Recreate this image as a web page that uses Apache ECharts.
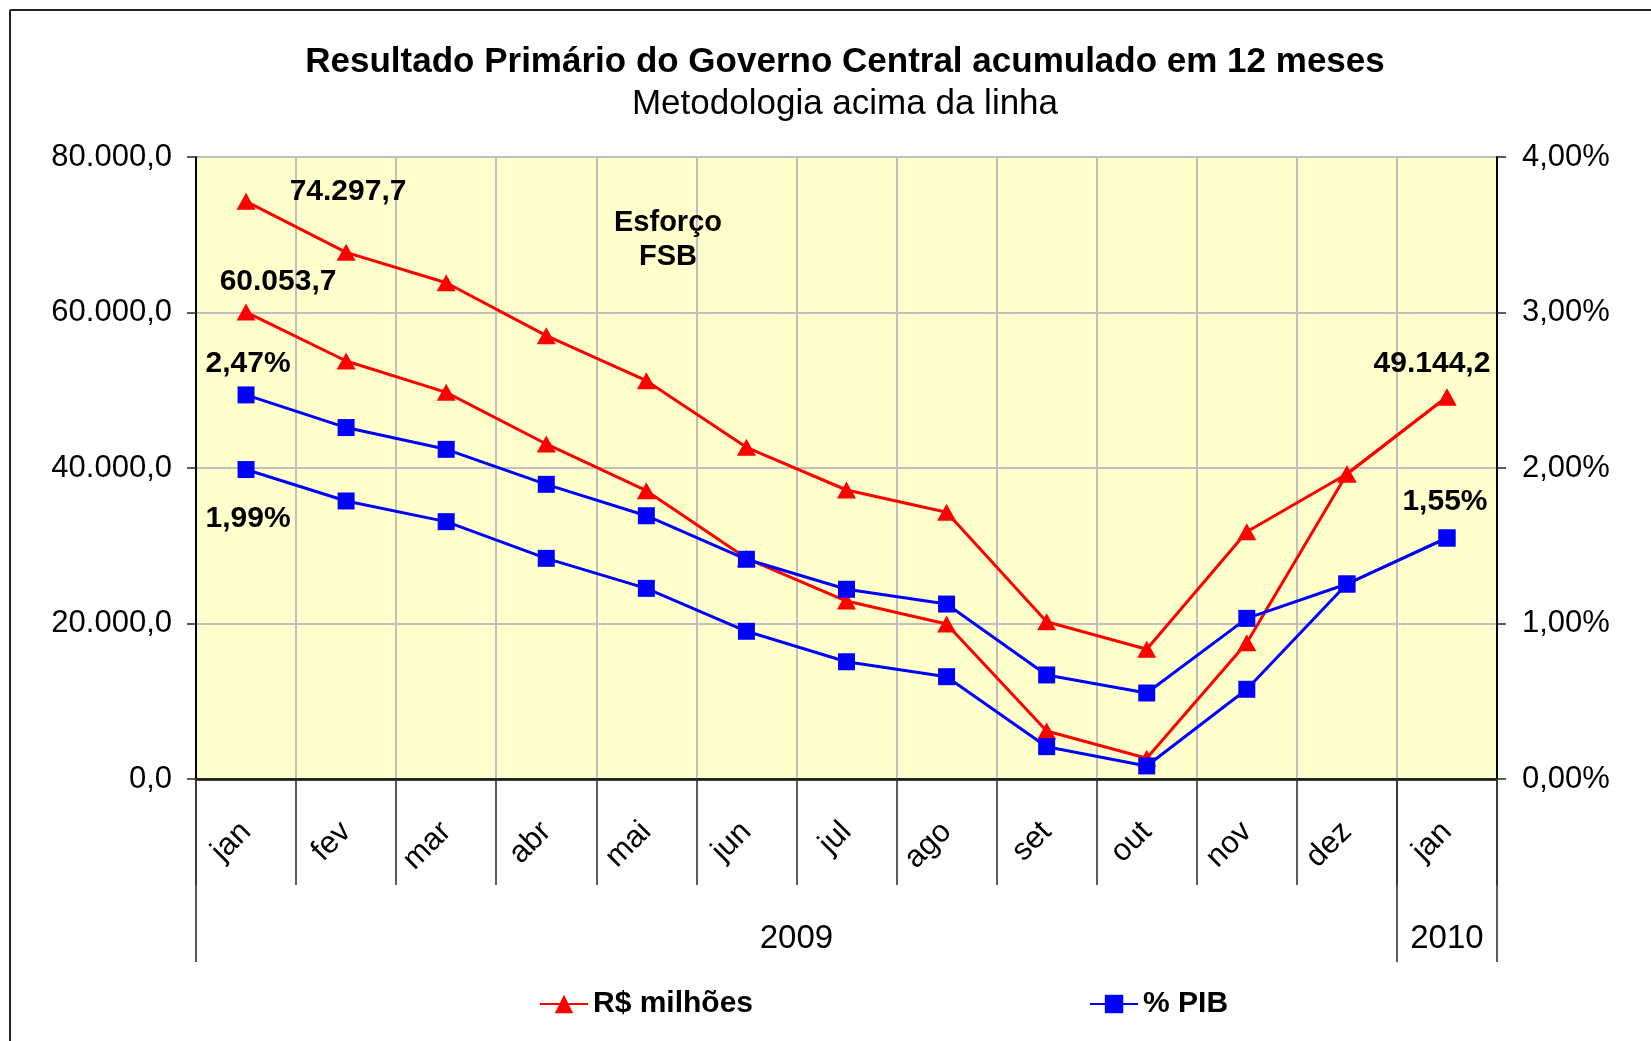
<!DOCTYPE html>
<html>
<head>
<meta charset="utf-8">
<script src="https://cdn.jsdelivr.net/npm/echarts@6/dist/echarts.min.js"></script>
<style>
html,body{margin:0;padding:0;background:#fff;}
#c{width:1651px;height:1041px;}
</style>
</head>
<body>
<div id="c"></div>
<script>
// ---- data ----
var months = ['jan','fev','mar','abr','mai','jun','jul','ago','set','out','nov','dez','jan'];
var years = ['2009', '2010'];
var yearCenters = [6, 12.5];      // category-axis positions of the year labels
var yearBounds = [0, 12, 13];     // year group boundaries
var rsFSB  = [74297.7, 67740, 63830, 57020, 51230, 42660, 37170, 34300, 20230, 16680, 31810, 39230, 49144.2];
var rs     = [60053.7, 53760, 49730, 43090, 37080, 28390, 22890, 19940, 6170, 2660, 17530, 39230, 49144.2];
var pibFSB = [2.47, 2.26, 2.12, 1.895, 1.693, 1.413, 1.22, 1.125, 0.669, 0.553, 1.033, 1.254, 1.55];
var pib    = [1.99, 1.788, 1.655, 1.419, 1.226, 0.95, 0.754, 0.658, 0.208, 0.084, 0.577, 1.254, 1.55];
var leftTicks = [0, 20000, 40000, 60000, 80000];
var rightTicks = [0, 1, 2, 3, 4];

var FONT = "'Liberation Sans', Arial, sans-serif";

function fmtBR(v, dec) {
  var s = Math.abs(v).toFixed(dec);
  var parts = s.split('.');
  var ip = parts[0].replace(/\B(?=(\d{3})+(?!\d))/g, '.');
  return (v < 0 ? '-' : '') + ip + (dec > 0 ? ',' + parts[1] : '');
}

var labelStyle = {fontFamily: FONT, fontWeight: 'bold', fontSize: 30, color: '#000'};
function withLabels(arr, marks, fmt) {
  return arr.map(function (v, i) {
    if (marks[i]) {
      return {value: v, label: Object.assign({show: true, position: 'inside', offset: marks[i],
        formatter: function (p) { return fmt(p.value); }}, labelStyle)};
    }
    return v;
  });
}
var fmtRs = function (v) { return fmtBR(v, 1); };
var fmtPct = function (v) { return fmtBR(v, 2) + '%'; };

var chart = echarts.init(document.getElementById('c'), null, {renderer: 'canvas'});
var option = {
  animation: false,
  backgroundColor: '#fff',
  title: {
    text: 'Resultado Primário do Governo Central acumulado em 12 meses',
    subtext: 'Metodologia acima da linha',
    left: 840, top: 37, textAlign: 'center', itemGap: 2,
    textStyle: {fontFamily: FONT, fontWeight: 'bold', fontSize: 35, color: '#000', lineHeight: 40},
    subtextStyle: {fontFamily: FONT, fontSize: 35, color: '#000', lineHeight: 40}
  },
  legend: {
    data: ['R$ milhões', '% PIB'],
    left: 534, top: 984, itemWidth: 48, itemHeight: 23, itemGap: 336,
    textStyle: {fontFamily: FONT, fontWeight: 'bold', fontSize: 30, color: '#000'}
  },
  grid: {left: 196, right: 154, top: 157, bottom: 262, show: true, backgroundColor: '#FFFFCC',
         borderWidth: 0, outerBoundsMode: 'none', containLabel: false},
  xAxis: [
    {
      type: 'category', data: months, boundaryGap: true, position: 'bottom',
      axisLine: {show: true, onZero: false, lineStyle: {color: '#000', width: 2.5}},
      axisTick: {show: true, length: 106, lineStyle: {color: '#333', width: 1.6}},
      splitLine: {show: true, lineStyle: {color: '#C0C0C0', width: 2}},
      axisLabel: {rotate: 45, margin: 48, fontFamily: FONT, fontSize: 31, color: '#000', interval: 0}
    },
    {
      type: 'value', min: 0, max: 13, position: 'bottom',
      axisLine: {show: false},
      axisTick: {show: true, customValues: yearBounds, length: 183, lineStyle: {color: '#333', width: 1.6}},
      splitLine: {show: false},
      axisLabel: {show: true, customValues: yearCenters, margin: 143, fontFamily: FONT, fontSize: 33, color: '#000',
        formatter: function (v) { var i = yearCenters.indexOf(v); return i >= 0 ? years[i] : ''; }}
    },
    {
      type: 'category', data: months, position: 'top',
      axisLine: {show: true, lineStyle: {color: '#222', width: 2}},
      axisTick: {show: false}, axisLabel: {show: false}, splitLine: {show: false}
    }
  ],
  yAxis: [
    {
      type: 'value', min: leftTicks[0], max: leftTicks[leftTicks.length - 1], interval: 20000, position: 'left',
      axisLine: {show: true, lineStyle: {color: '#000', width: 2}},
      axisTick: {show: true, length: 9, lineStyle: {color: '#333', width: 1.6}},
      splitLine: {show: true, lineStyle: {color: '#C0C0C0', width: 2}},
      axisLabel: {margin: 24, fontFamily: FONT, fontSize: 31, color: '#000', formatter: function (v) { return fmtBR(v, 1); }}
    },
    {
      type: 'value', min: rightTicks[0], max: rightTicks[rightTicks.length - 1], interval: 1, position: 'right',
      axisLine: {show: true, lineStyle: {color: '#000', width: 2}},
      axisTick: {show: true, length: 9, lineStyle: {color: '#333', width: 1.6}},
      splitLine: {show: false},
      axisLabel: {margin: 25, fontFamily: FONT, fontSize: 31, color: '#000', formatter: function (v) { return fmtBR(v, 2) + '%'; }}
    }
  ],
  series: [
    {name: 'R$ milhões', type: 'line', xAxisIndex: 0, yAxisIndex: 0,
     data: withLabels(rsFSB, {0: [102, -10], 12: [-15, -33]}, fmtRs),
     symbol: 'triangle', symbolSize: [19, 17], showAllSymbol: true,
     lineStyle: {color: '#FF0000', width: 3}, itemStyle: {color: '#FF0000'}},
    {name: 'R$ milhões', type: 'line', xAxisIndex: 0, yAxisIndex: 0,
     data: withLabels(rs, {0: [32, -30]}, fmtRs),
     symbol: 'triangle', symbolSize: [19, 17], showAllSymbol: true,
     lineStyle: {color: '#FF0000', width: 3}, itemStyle: {color: '#FF0000'}},
    {name: '% PIB', type: 'line', xAxisIndex: 0, yAxisIndex: 1,
     data: withLabels(pibFSB, {0: [2, -31], 12: [-2, -36]}, fmtPct),
     symbol: 'rect', symbolSize: 17, showAllSymbol: true,
     lineStyle: {color: '#0000FF', width: 3}, itemStyle: {color: '#0000FF'}},
    {name: '% PIB', type: 'line', xAxisIndex: 0, yAxisIndex: 1,
     data: withLabels(pib, {0: [2, 49]}, fmtPct),
     symbol: 'rect', symbolSize: 17, showAllSymbol: true,
     lineStyle: {color: '#0000FF', width: 3}, itemStyle: {color: '#0000FF'}}
  ],
  graphic: [
    {type: 'text', left: 668 - 60, top: 206, z: 50,
     style: {text: 'Esforço\nFSB', x: 0, y: 0, fill: '#000', font: 'bold 29px ' + FONT,
             textAlign: 'center', lineHeight: 34, width: 120, align: 'center'}},
    {type: 'line', shape: {x1: 10, y1: 10, x2: 1651, y2: 10}, style: {stroke: '#222', lineWidth: 2}},
    {type: 'line', shape: {x1: 10, y1: 10, x2: 10, y2: 1041}, style: {stroke: '#222', lineWidth: 2}}
  ]
};
chart.setOption(option);
</script>
</body>
</html>
